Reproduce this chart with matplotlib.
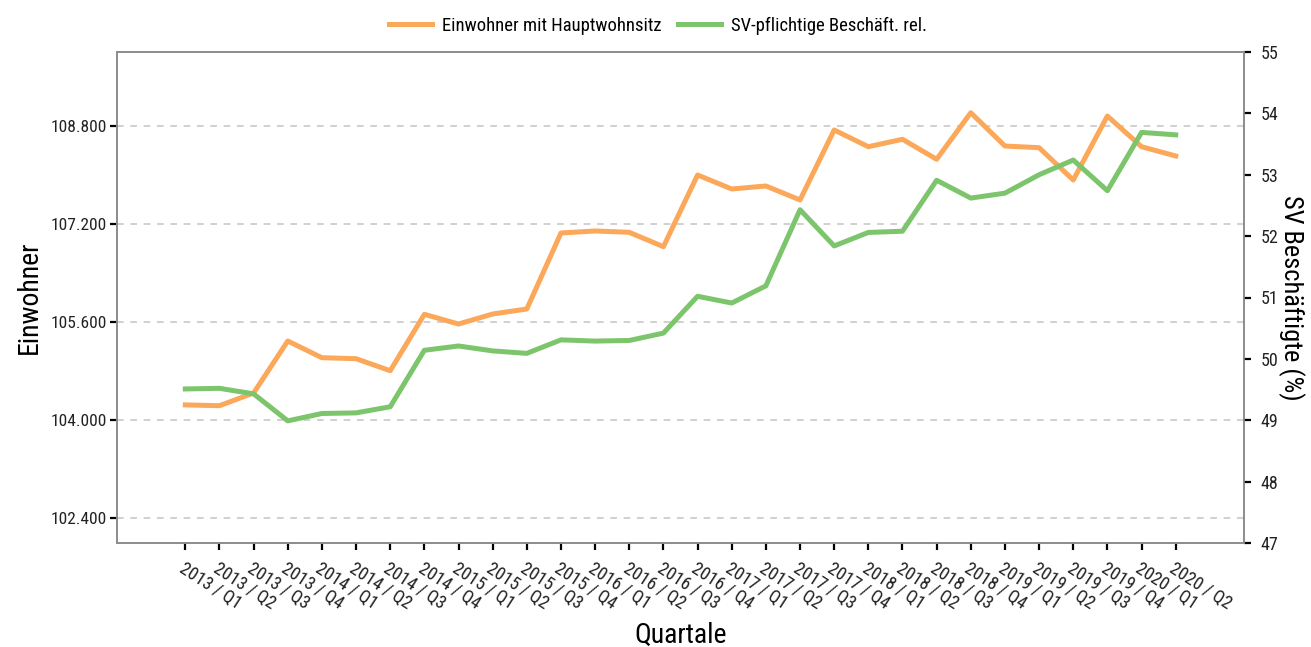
import matplotlib
matplotlib.use("Agg")
import logging
logging.getLogger('matplotlib.font_manager').setLevel(logging.ERROR)
import matplotlib.pyplot as plt
from matplotlib.ticker import FixedLocator

plt.rcParams['font.family'] = ['Liberation Sans Narrow', 'Roboto Condensed', 'Fira Sans Condensed',
                               'Open Sans Condensed', 'Lato', 'DejaVu Sans']

quarters = ["2013 / Q1", "2013 / Q2", "2013 / Q3", "2013 / Q4",
            "2014 / Q1", "2014 / Q2", "2014 / Q3", "2014 / Q4",
            "2015 / Q1", "2015 / Q2", "2015 / Q3", "2015 / Q4",
            "2016 / Q1", "2016 / Q2", "2016 / Q3", "2016 / Q4",
            "2017 / Q1", "2017 / Q2", "2017 / Q3", "2017 / Q4",
            "2018 / Q1", "2018 / Q2", "2018 / Q3", "2018 / Q4",
            "2019 / Q1", "2019 / Q2", "2019 / Q3", "2019 / Q4",
            "2020 / Q1", "2020 / Q2"]

einwohner = [104250, 104237, 104444, 105291, 105019, 105003, 104807, 105726,
             105568, 105731, 105813, 107051, 107084, 107062, 106828, 107996,
             107768, 107817, 107589, 108729, 108457, 108578, 108252, 109011,
             108468, 108441, 107914, 108957, 108457, 108306]

sv_rel = [49.51, 49.52, 49.43, 48.99, 49.11, 49.12, 49.22, 50.14,
          50.21, 50.13, 50.09, 50.31, 50.29, 50.30, 50.42, 51.02,
          50.91, 51.19, 52.43, 51.84, 52.06, 52.08, 52.91, 52.62,
          52.70, 53.00, 53.24, 52.74, 53.69, 53.65]

left_ticks = [102400, 104000, 105600, 107200, 108800]
left_labels = ["102.400", "104.000", "105.600", "107.200", "108.800"]
right_ticks = [47, 48, 49, 50, 51, 52, 53, 54, 55]

orange = "#fca85a"
green = "#7dc56c"
spine_col = "#8c8c8c"

fig = plt.figure(figsize=(13.11, 6.47), dpi=100)
ax = fig.add_axes([117/1311, 1-543/647, (1244-117)/1311, (543-52)/647])
ax2 = ax.twinx()

x = list(range(len(quarters)))
l1, = ax.plot(x, einwohner, color=orange, lw=3.6, label="Einwohner mit Hauptwohnsitz")
l2, = ax2.plot(x, sv_rel, color=green, lw=3.6, label="SV-pflichtige Beschäft. rel.")

ax.set_xlim(-2, 31)
ax.set_ylim(102000, 110000)
ax2.set_ylim(47, 55)

ax.yaxis.set_major_locator(FixedLocator(left_ticks))
ax.set_yticklabels(left_labels)
ax2.yaxis.set_major_locator(FixedLocator(right_ticks))

ax.set_xticks(x)
ax.set_xticklabels(quarters, rotation=-33, ha='left', va='top', rotation_mode='anchor')

ax.grid(axis='y', color='#c8c8c8', linestyle=(0, (4, 4)), linewidth=1.2)
ax.set_axisbelow(True)

for a in (ax, ax2):
    for s in a.spines.values():
        s.set_color(spine_col)
        s.set_linewidth(1.2)
    a.tick_params(axis='both', colors='black', length=5, width=1.6, labelcolor='#222222')

ax.tick_params(axis='y', labelsize=12.5, pad=2)
ax2.tick_params(axis='y', labelsize=13, pad=7)
ax.tick_params(axis='x', pad=7, labelsize=13)

ax.set_ylabel("Einwohner", fontsize=20, labelpad=6)
ax2.set_ylabel("SV Beschäftigte (%)", fontsize=19, rotation=-90, labelpad=19)
ax.set_xlabel("Quartale", fontsize=20, labelpad=6)

fig.legend(handles=[l1, l2], loc='upper center', bbox_to_anchor=(0.502, 1.0), ncol=2,
           frameon=False, fontsize=13.4, handlelength=2.3, columnspacing=0.9, handletextpad=0.55)

fig.savefig("out.png", dpi=100)
